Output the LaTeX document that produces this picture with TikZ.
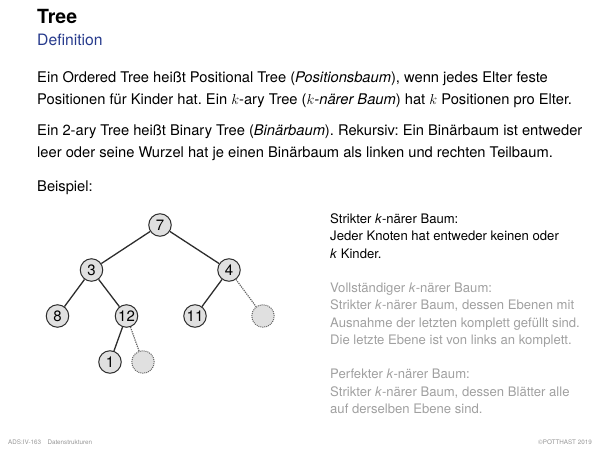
\documentclass[tikz,border=0pt]{standalone}
\usepackage{fontspec}
\setmainfont{TeX Gyre Heros}
\usepackage{tikz}
\usetikzlibrary{positioning}
\definecolor{headblue}{RGB}{38,58,140}
\definecolor{softgray}{RGB}{160,160,160}
\definecolor{footgray}{RGB}{150,150,150}
\definecolor{nodefill}{RGB}{224,224,224}
\definecolor{nodeline}{RGB}{45,45,45}
\definecolor{nilline}{RGB}{100,100,100}
\frenchspacing

\begin{document}
\begin{tikzpicture}[x=1pt, y=-1pt,
  line/.style={anchor=base west, inner sep=0pt},
  body/.style={line, font=\fontsize{14.7}{22}\selectfont},
  side/.style={line, font=\fontsize{13.1}{17}\selectfont},
  vertex/.style={circle, draw=nodeline, fill=nodefill, line width=1pt,
    minimum size=22.5pt, inner sep=0pt, font=\fontsize{15}{15}\selectfont},
  nilvertex/.style={vertex, draw=nilline, densely dotted},
  edge/.style={draw=nodeline, line width=1.3pt},
  niledge/.style={draw=nilline, line width=1.2pt, densely dotted}]
  \useasboundingbox (0,0) rectangle (600,450);

  % Head
  \node[line, font=\fontsize{19.5}{20}\selectfont\bfseries] (title) at (37,23) {Tree};
  \node[line, font=\fontsize{15.7}{18}\selectfont, text=headblue] (subtitle) at (37,45) {Definition};

  % Definition text
  \node[body] (defa) at (37,82) {Ein Ordered Tree heißt Positional Tree (\textit{Positionsbaum}), wenn jedes Elter feste};
  \node[body] (defb) at (37,104) {Positionen für Kinder hat. Ein $k$-ary Tree ($k$\textit{-närer Baum}) hat $k$ Positionen pro Elter.};
  \node[body] (bina) at (37,135) {Ein 2-ary Tree heißt Binary Tree (\textit{Binärbaum}). Rekursiv: Ein Binärbaum ist entweder};
  \node[body] (binb) at (37,157) {leer oder seine Wurzel hat je einen Binärbaum als linken und rechten Teilbaum.};
  \node[body] (example) at (37,191) {Beispiel:};

  % Tree
  \node[vertex] (n7) at (160,225) {7};
  \node[vertex] (n3) at (91.5,270) {3};
  \node[vertex] (n4) at (229,270) {4};
  \node[vertex] (n8) at (57.5,316) {8};
  \node[vertex] (n12) at (126.5,316) {12};
  \node[vertex] (n11) at (195,316) {11};
  \node[nilvertex] (nilr) at (263,316) {};
  \node[vertex] (n1) at (110,362) {1};
  \node[nilvertex] (nil12) at (143,362) {};
  \draw[edge] (n7) -- (n3);
  \draw[edge] (n7) -- (n4);
  \draw[edge] (n3) -- (n8);
  \draw[edge] (n3) -- (n12);
  \draw[edge] (n4) -- (n11);
  \draw[niledge] (n4) -- (nilr);
  \draw[edge] (n12) -- (n1);
  \draw[niledge] (n12) -- (nil12);

  % Kinds of trees
  \node[side] (stra) at (330,223) {Strikter \textit{k}-närer Baum:};
  \node[side] (strb) at (330,240.5) {Jeder Knoten hat entweder keinen oder};
  \node[side] (strc) at (330,258) {\textit{k} Kinder.};
  \node[side, text=softgray] (vola) at (330,292) {Vollständiger \textit{k}-närer Baum:};
  \node[side, text=softgray] (volb) at (330,309.5) {Strikter \textit{k}-närer Baum, dessen Ebenen mit};
  \node[side, text=softgray] (volc) at (330,327) {Ausnahme der letzten komplett gefüllt sind.};
  \node[side, text=softgray] (vold) at (330,344.5) {Die letzte Ebene ist von links an komplett.};
  \node[side, text=softgray] (pera) at (330,378.5) {Perfekter \textit{k}-närer Baum:};
  \node[side, text=softgray] (perb) at (330,396) {Strikter \textit{k}-närer Baum, dessen Blätter alle};
  \node[side, text=softgray] (perc) at (330,413.5) {auf derselben Ebene sind.};

  % Footer
  \node[line, font=\fontsize{6.3}{7}\selectfont, text=footgray] (foot) at (8,444) {ADS:IV-163\quad Datenstrukturen};
  \node[line, anchor=base east, font=\fontsize{6.3}{7}\selectfont, text=footgray] (copy) at (592,444) {©POTTHAST 2019};
\end{tikzpicture}
\end{document}
